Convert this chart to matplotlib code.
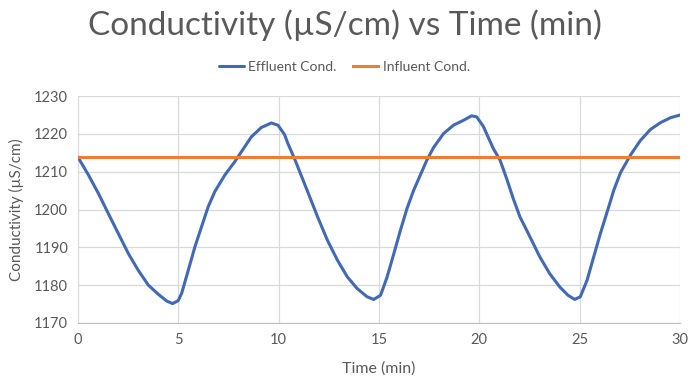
import matplotlib
matplotlib.use("Agg")
import matplotlib.pyplot as plt

time_min = [0, 0.53, 1.03, 1.52, 2.02, 2.52, 3.01, 3.51, 4.0, 4.42, 4.72, 5.0, 5.17, 5.5,
            5.83, 6.16, 6.49, 6.82, 7.32, 7.81, 8.15, 8.64, 9.14, 9.64, 9.97, 10.3, 10.46,
            10.79, 11.12, 11.45, 11.94, 12.43, 12.93, 13.42, 13.91, 14.41, 14.74, 15.08,
            15.41, 15.74, 16.07, 16.4, 16.73, 17.06, 17.39, 17.72, 18.22, 18.71, 19.21,
            19.62, 19.87, 20.2, 20.36, 20.7, 21.03, 21.36, 21.69, 22.02, 22.52, 23.01,
            23.51, 24.01, 24.42, 24.75, 25.03, 25.37, 25.7, 26.03, 26.37, 26.7, 27.03,
            27.53, 28.03, 28.53, 29.03, 29.53, 30]
effluent = [1213.9, 1209.1, 1204.2, 1198.9, 1193.6, 1188.3, 1183.9, 1180.0, 1177.6, 1175.8,
            1175.1, 1175.9, 1177.8, 1183.9, 1190.1, 1195.4, 1200.7, 1204.7, 1209.1, 1212.6,
            1215.3, 1219.2, 1221.7, 1222.9, 1222.3, 1219.8, 1217.5, 1213.5, 1209.1, 1204.7,
            1198.1, 1191.9, 1186.6, 1182.2, 1179.1, 1176.9, 1176.2, 1177.3, 1182.2, 1188.3,
            1194.5, 1200.3, 1205.1, 1209.1, 1213.1, 1216.4, 1220.1, 1222.3, 1223.6, 1224.8,
            1224.5, 1222.0, 1220.1, 1216.1, 1213.1, 1208.2, 1202.9, 1198.1, 1192.8, 1187.5,
            1183.0, 1179.5, 1177.3, 1176.2, 1176.9, 1181.3, 1187.5, 1193.6, 1199.4, 1205.1,
            1209.7, 1214.4, 1218.3, 1221.2, 1223.0, 1224.3, 1225.0]
influent_time = [0, 30]
influent = [1214, 1214]

yticks = [1170, 1180, 1190, 1200, 1210, 1220, 1230]
xticks = [0, 5, 10, 15, 20, 25, 30]

plt.rcParams['font.family'] = ['Lato', 'DejaVu Sans']
gray = '#595959'

fig = plt.figure(figsize=(6.89, 3.83), dpi=100)
ax = fig.add_axes([0.113, 0.157, 0.874, 0.592])
ax.plot(time_min, effluent, color='#4169B5', lw=2.2, label='Effluent Cond.',
        solid_joinstyle='round', solid_capstyle='round')
ax.plot(influent_time, influent, color='#ED7D31', lw=2.2, label='Influent Cond.')
ax.set_xlim(0, 30)
ax.set_ylim(1170, 1230)
ax.set_xticks(xticks)
ax.set_yticks(yticks)
ax.grid(True, color='#d9d9d9', lw=0.9)
ax.set_axisbelow(True)
for s in ['top', 'right', 'left']:
    ax.spines[s].set_visible(False)
ax.spines['bottom'].set_color('#bfbfbf')
ax.tick_params(length=0, colors=gray, labelsize=10.5, pad=7)
ax.set_xlabel('Time (min)', color=gray, fontsize=11.5, labelpad=11)
ax.set_ylabel('Conductivity (µS/cm)', color=gray, fontsize=11, labelpad=7)

fig.text(0.5, 0.935, 'Conductivity (µS/cm) vs Time (min)', ha='center', va='center',
         fontsize=24, color=gray)
leg = fig.legend(loc='center', bbox_to_anchor=(0.5, 0.825), ncol=2, frameon=False,
                 fontsize=10, handlelength=1.8, columnspacing=1.2, handletextpad=0.3)
for t in leg.get_texts():
    t.set_color(gray)

fig.savefig('out.png', dpi=100)
